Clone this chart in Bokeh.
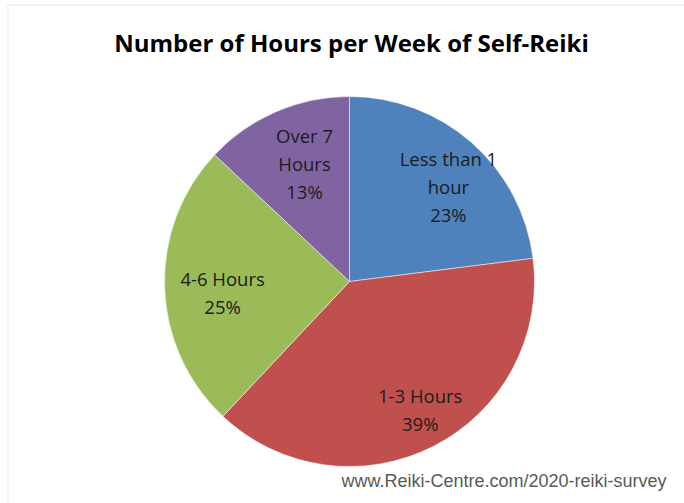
import math
from bokeh.plotting import figure
from bokeh.models import Range1d, BoxAnnotation, ColumnDataSource
from bokeh.core.properties import value
from bokeh.embed import file_html
from bokeh.resources import INLINE

# ---- data ----
title_text = "Number of Hours per Week of Self-Reiki"
categories = ["Less than 1\nhour", "1-3 Hours", "4-6 Hours", "Over 7\nHours"]
percents = [23, 39, 25, 13]
colors = ["#4F81BD", "#C0504D", "#9BBB59", "#8064A2"]
source_note = "www.Reiki-Centre.com/2020-reiki-survey"

W, H = 684, 503
p = figure(width=W, height=H, output_backend="svg", toolbar_location=None,
           x_range=Range1d(0, W), y_range=Range1d(0, H), min_border=0)
p.axis.visible = False
p.grid.visible = False
p.outline_line_color = None
p.background_fill_color = "white"
p.border_fill_color = "white"

# frame border (top and left visible)
p.add_layout(BoxAnnotation(left=7.5, right=W + 20, bottom=-20, top=H - 4.5,
                           fill_alpha=0, line_color="#d6d6d6", line_width=2))

cx, cy, R = 349, H - 281, 185
total = sum(percents)
starts, ends, mids = [], [], []
cum = 0
for v in percents:
    a0 = math.pi / 2 - 2 * math.pi * (cum + v) / total
    a1 = math.pi / 2 - 2 * math.pi * cum / total
    starts.append(a0)
    ends.append(a1)
    mids.append((a0 + a1) / 2)
    cum += v

src = ColumnDataSource(dict(start=starts, end=ends, color=colors))
p.wedge(x=cx, y=cy, radius=R, start_angle="start", end_angle="end",
        fill_color="color", line_color="white", line_width=1, line_alpha=0.5,
        source=src)

lab_r = 0.735 * R
shift_x, shift_y = 9, -7
labels = [f"{c}\n{v}%" for c, v in zip(categories, percents)]
lx = [cx + shift_x + lab_r * math.cos(m) for m in mids]
ly = [cy + shift_y + lab_r * math.sin(m) for m in mids]
p.text(x=lx, y=ly, text=labels, text_align="center", text_baseline="middle",
       text_font=value("Open Sans"), text_font_size="18.5px", text_color="#1c1c1c",
       text_line_height=1.12)

p.text(x=[cx + 2], y=[H - 42], text=[title_text], text_align="center",
       text_baseline="middle", text_font=value("Open Sans"), text_font_style="bold",
       text_font_size="24px", text_color="#000000")

p.text(x=[666], y=[H - 480], text=[source_note], text_align="right",
       text_baseline="middle", text_font=value("Liberation Sans"),
       text_font_size="18px", text_color="#595959")

open("out.html", "w").write(file_html(p, INLINE))
